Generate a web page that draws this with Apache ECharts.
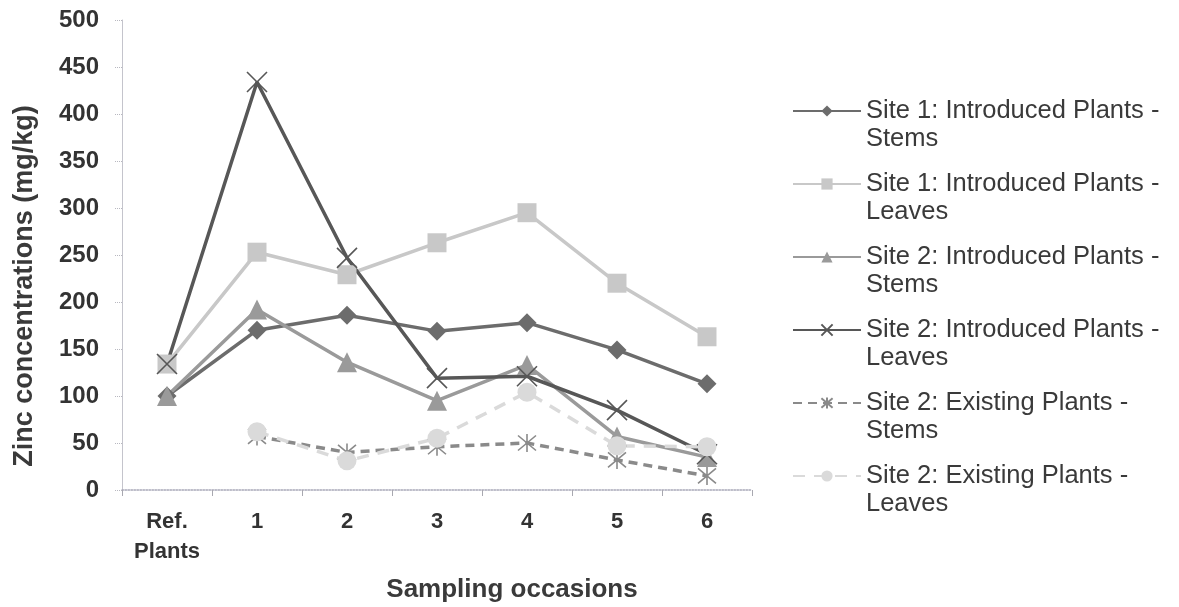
<!DOCTYPE html>
<html>
<head>
<meta charset="utf-8">
<script src="https://cdn.jsdelivr.net/npm/echarts@6/dist/echarts.min.js"></script>
<style>
html,body{margin:0;padding:0;background:#fff;}
#chart{width:1179px;height:607px;}
</style>
</head>
<body>
<div id="chart"></div>
<script>
var categories = ['Ref.\nPlants', '1', '2', '3', '4', '5', '6'];
var yTicks = [0, 50, 100, 150, 200, 250, 300, 350, 400, 450, 500];

var site1Stems    = [100, 170, 186, 169, 178, 149, 113];
var site1Leaves   = [134, 253, 229, 263, 295, 220, 163];
var site2Stems    = [100, 192, 136, 95, 133, 57, 35];
var site2Leaves   = [134, 434, 247, 119, 121, 85, 38];
var existStems    = [null, 57, 40, 46, 50, 32, 15];
var existLeaves   = [null, 62, 31, 55, 104, 47, 46];

var seriesNames = [
  'Site 1: Introduced Plants -\nStems',
  'Site 1: Introduced Plants -\nLeaves',
  'Site 2: Introduced Plants -\nStems',
  'Site 2: Introduced Plants -\nLeaves',
  'Site 2: Existing Plants -\nStems',
  'Site 2: Existing Plants -\nLeaves'
];
var xTitle = 'Sampling occasions';
var yTitle = 'Zinc concentrations (mg/kg)';

var FONT = '"Liberation Sans", Arial, sans-serif';
var xPath = 'path://M0,0 L20,20 M20,0 L0,20';
var starPath = 'path://M0,0 L20,20 M20,0 L0,20 M10,-2 L10,22';

function mk(name, data, color, symbol, size, opts) {
  opts = opts || {};
  return {
    name: name, type: 'line', data: data,
    symbol: symbol, symbolSize: size,
    connectNulls: false,
    lineStyle: {color: color, width: 3.5, type: opts.dash || 'solid'},
    itemStyle: opts.stroke ? {color: 'rgba(0,0,0,0)', borderColor: color, borderWidth: 1.6}
                           : {color: opts.markerColor || color},
    emphasis: {disabled: true},
    animation: false
  };
}

var chart = echarts.init(document.getElementById('chart'), null, {renderer: 'canvas'});
chart.setOption({
  backgroundColor: '#ffffff',
  animation: false,
  grid: {left: 122, right: 427, top: 20, bottom: 117, containLabel: false},
  xAxis: {
    type: 'category', data: categories, boundaryGap: true,
    axisLine: {show: true, lineStyle: {color: '#a8a8b8', type: 'dotted', width: 1.5}},
    axisTick: {show: true, alignWithLabel: false, length: 6, lineStyle: {color: '#a8a8b0'}},
    axisLabel: {fontFamily: FONT, fontWeight: 'bold', fontSize: 22, color: '#333', lineHeight: 30, margin: 17, interval: 0}
  },
  yAxis: {
    type: 'value', min: yTicks[0], max: yTicks[yTicks.length - 1], interval: yTicks[1] - yTicks[0],
    axisLine: {show: true, lineStyle: {color: '#c4c4cc', width: 1}},
    axisTick: {show: true, length: 7, lineStyle: {color: '#b8b8c0', type: 'dotted'}},
    splitLine: {show: false},
    axisLabel: {fontFamily: FONT, fontWeight: 'bold', fontSize: 24, color: '#333', margin: 23}
  },
  legend: {
    orient: 'vertical', left: 792, top: 69, padding: 0,
    itemWidth: 68, itemHeight: 14, itemGap: -11,
    data: seriesNames,
    formatter: function (name) { return ' \n' + name; },
    textStyle: {fontFamily: FONT, fontSize: 25.5, color: '#3a3a3a', lineHeight: 28},
    selectedMode: false
  },
  graphic: [{
    type: 'text', x: 25, y: 286, rotation: Math.PI / 2,
    style: {text: yTitle, font: 'bold 27px ' + FONT, fill: '#3a3a3a', align: 'center', verticalAlign: 'middle'}
  }, {
    type: 'text', x: 512, y: 590,
    style: {text: xTitle, font: 'bold 26px ' + FONT, fill: '#3a3a3a', align: 'center', verticalAlign: 'middle'}
  }],
  series: [
    mk(seriesNames[0], site1Stems, '#6c6c6c', 'diamond', 19),
    mk(seriesNames[1], site1Leaves, '#c8c8c8', 'rect', 19),
    mk(seriesNames[2], site2Stems, '#9a9a9a', 'triangle', 20),
    mk(seriesNames[3], site2Leaves, '#575757', xPath, 20, {stroke: true}),
    mk(seriesNames[4], existStems, '#8a8a8a', starPath, 18, {stroke: true, dash: [9, 6]}),
    mk(seriesNames[5], existLeaves, '#dadada', 'circle', 19, {dash: [12, 9]})
  ]
});
</script>
</body>
</html>
